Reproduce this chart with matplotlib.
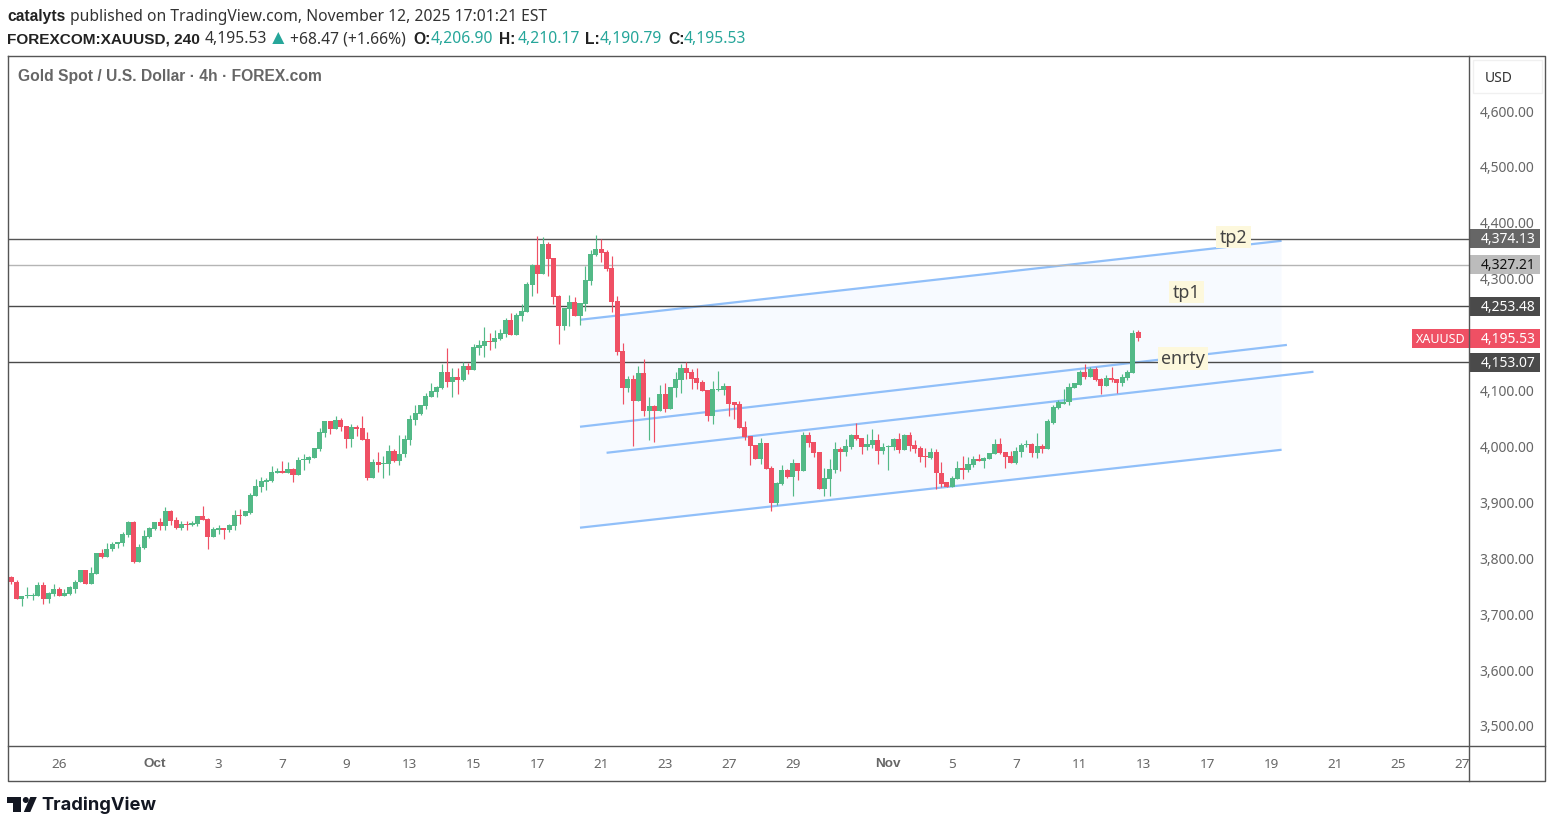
#!/usr/bin/env python3
# XAUUSD 4h chart with channel, levels and notes
import matplotlib
matplotlib.use("Agg")
import matplotlib.pyplot as plt
from matplotlib.patches import Polygon, Rectangle, Circle
from matplotlib.transforms import blended_transform_factory, ScaledTranslation

W, H = 1555, 828

opens = [
    3768,3760,3730,3734,3734,3735,3755,3730,3739,3748,
    3735,3739,3748,3759,3782,3757,3775,3812,3805,3818,
    3827,3830,3844,3868,3796,3821,3841,3855,3868,3860,
    3887,3871,3857,3864,3862,3864,3878,3873,3841,3853,
    3857,3852,3860,3880,3878,3884,3914,3930,3939,3941,
    3955,3959,3955,3962,3952,3978,3978,3982,3998,4027,
    4048,4034,4050,4039,4016,4037,4036,4016,3946,3975,
    3971,3971,3995,3977,3988,4014,4050,4061,4075,4091,
    4100,4107,4136,4118,4127,4122,4147,4140,4179,4182,
    4191,4190,4195,4204,4229,4202,4236,4243,4292,4327,
    4311,4365,4340,4272,4218,4249,4261,4236,4258,4299,
    4345,4356,4351,4322,4263,4174,4107,4123,4084,4134,
    4066,4075,4066,4097,4070,4107,4122,4143,4136,4125,
    4118,4104,4057,4104,4104,4111,4081,4079,4038,4021,
    4005,3979,4009,3964,3902,3936,3961,3948,3973,3959,
    4023,4011,3993,3927,3945,3961,3998,3993,4002,4023,
    4018,4002,4005,4014,3995,4002,4002,4016,3996,4022,
    4005,4000,3986,3982,3993,3955,3938,3929,3945,3964,
    3961,3970,3980,3977,3980,3989,4007,3993,3986,3973,
    3993,4005,4007,3991,4004,3998,4045,4072,4079,4081,
    4107,4113,4136,4127,4141,4123,4111,4125,4123,4116,
    4125,4134,4206.90]
highs = [
    3771,3764,3735,3750,3741,3760,3759,3742,3757,3751,
    3748,3753,3764,3782,3782,3787,3812,3818,3830,3832,
    3832,3850,3869,3869,3828,3853,3859,3868,3875,3894,
    3889,3877,3869,3869,3869,3878,3896,3875,3859,3862,
    3857,3864,3889,3891,3887,3919,3945,3948,3946,3968,
    3964,3977,3975,3964,3984,3989,3986,4000,4036,4048,
    4048,4057,4054,4039,4043,4041,4057,4029,3980,3993,
    3986,4005,3998,4022,4022,4059,4077,4077,4098,4116,
    4111,4149,4179,4143,4143,4154,4152,4186,4193,4216,
    4206,4211,4213,4233,4241,4241,4258,4297,4329,4379,
    4377,4368,4340,4274,4250,4274,4270,4259,4326,4354,
    4381,4374,4354,4343,4272,4188,4129,4131,4147,4159,
    4090,4077,4113,4115,4109,4136,4150,4154,4141,4143,
    4122,4104,4120,4138,4116,4111,4082,4084,4048,4021,
    4005,4018,4009,3968,3939,3970,3962,3980,3973,4029,
    4029,4011,3993,3964,3980,4011,4002,4016,4025,4045,
    4018,4025,4034,4025,4009,4005,4018,4027,4025,4029,
    4014,4004,4000,4000,3998,3975,3938,3950,3977,3986,
    3984,3986,3989,3984,3991,4016,4018,3993,3995,4002,
    4009,4013,4009,4027,4007,4052,4077,4086,4106,4115,
    4115,4140,4149,4145,4145,4125,4131,4145,4123,4132,
    4140,4211,4210.17]
lows = [
    3757,3730,3716,3732,3728,3735,3721,3723,3735,3735,
    3734,3737,3741,3759,3757,3757,3775,3803,3805,3816,
    3821,3825,3841,3793,3796,3819,3839,3853,3853,3852,
    3862,3855,3853,3852,3860,3860,3871,3818,3841,3846,
    3837,3850,3853,3864,3878,3882,3914,3921,3925,3939,
    3955,3955,3955,3939,3952,3961,3973,3982,3995,4020,
    4025,4034,4030,4000,4002,4021,4014,3943,3946,3957,
    3946,3952,3975,3970,3984,4005,4041,4059,4070,4091,
    4090,4106,4109,4090,4097,4120,4132,4140,4166,4163,
    4175,4179,4193,4199,4202,4202,4227,4243,4272,4277,
    4311,4308,4258,4186,4211,4218,4236,4220,4245,4292,
    4343,4333,4317,4243,4166,4079,4100,4004,4084,4057,
    4014,4011,4066,4064,4070,4091,4098,4123,4106,4106,
    4102,4047,4043,4102,4095,4057,4052,4036,4013,3970,
    3979,3971,3962,3886,3898,3934,3946,3914,3943,3959,
    4002,3984,3927,3914,3914,3955,3959,3986,3998,4014,
    3988,3996,4000,3971,3989,3961,3996,3991,3996,3995,
    3991,3975,3966,3980,3927,3930,3929,3929,3945,3945,
    3957,3966,3977,3963,3979,3989,3988,3964,3973,3971,
    3984,4002,3984,3982,3991,3998,4043,4070,4079,4077,
    4107,4113,4123,4127,4120,4097,4111,4118,4098,4111,
    4122,4134,4190.79]
closes = [
    3759,3730,3735,3736,3737,3755,3730,3741,3748,3735,
    3741,3750,3760,3782,3757,3776,3812,3805,3819,3828,
    3832,3846,3868,3796,3823,3843,3857,3868,3860,3887,
    3869,3857,3864,3862,3866,3878,3871,3841,3855,3857,
    3852,3862,3880,3878,3886,3916,3932,3941,3943,3957,
    3959,3955,3962,3952,3978,3980,3984,4000,4029,4048,
    4034,4050,4037,4016,4037,4034,4014,3946,3975,3970,
    3973,3995,3977,3989,4016,4052,4063,4077,4093,4102,
    4109,4136,4118,4127,4122,4147,4140,4181,4184,4191,
    4190,4197,4206,4229,4202,4238,4245,4293,4327,4311,
    4365,4338,4270,4218,4250,4261,4236,4259,4300,4347,
    4356,4349,4320,4261,4172,4107,4123,4084,4134,4066,
    4075,4066,4097,4070,4109,4123,4143,4134,4123,4116,
    4102,4057,4106,4106,4111,4079,4077,4036,4020,4004,
    3979,4009,3962,3902,3937,3961,3948,3973,3959,4023,
    4009,3991,3927,3946,3962,3998,3993,4004,4023,4016,
    4002,4007,4014,3995,4002,4004,4016,3996,4022,4004,
    3998,3984,3984,3993,3954,3936,3929,3946,3964,3961,
    3971,3980,3977,3982,3991,4007,3991,3984,3973,3995,
    4005,4007,3991,4004,3998,4047,4073,4081,4082,4109,
    4115,4136,4127,4141,4122,4111,4125,4122,4116,4127,
    4136,4206,4195.53]

# 4,200.00 sits hidden behind the last-price tag
price_ticks = [3500, 3600, 3700, 3800, 3900, 4000, 4100, 4300, 4400, 4500, 4600]
date_pos = [9, 27, 39, 51, 63, 75, 87, 99, 111, 123, 135, 147, 165, 177, 189, 201, 213, 225, 237, 249, 261, 273]
date_lab = ["26", "Oct", "3", "7", "9", "13", "15", "17", "21", "23", "27", "29",
            "Nov", "5", "7", "11", "13", "17", "19", "21", "25", "27"]

# horizontal levels: (price, line colour, box colour, box text colour)
levels = [4374.13, 4327.21, 4253.48, 4153.07]
level_line = ["#555555", "#b5b5b5", "#4a4a4a", "#4a4a4a"]
level_box = ["#666666", "#bcbcbc", "#4a4a4a", "#4a4a4a"]
level_txt = ["white", "#111111", "white", "white"]

# channel lines: bar index and price at both ends
chan_x = [(107, 239), (107, 240), (112, 245), (107, 239)]
chan_y = [(4229, 4370.3), (4037.6, 4184), (3991, 4136), (3857, 3996.4)]

notes = ["tp2", "tp1", "enrty"]

GREEN = "#53b987"
RED = "#ef5064"
LINE = "#555555"
FONT = ["Noto Sans", "DejaVu Sans"]
BOLD = ["Liberation Sans", "DejaVu Sans"]
plt.rcParams["font.family"] = FONT

fig = plt.figure(figsize=(W / 100, H / 100), dpi=100, facecolor="white")

# main panel, in pixels: x 8.5..1470, y 55.5..746
left, right, top, bottom = 8.5, 1470, 55.5, 746
ax = fig.add_axes([left / W, 1 - bottom / H, (right - left) / W, (bottom - top) / H])
ax.set_xlim((left - 11.3) / 5.315, (right - 11.3) / 5.315)
ax.set_ylim(3468.2, 4703.6)
for s in ax.spines.values():
    s.set_visible(False)

# channel fill and lines
ax.add_patch(Polygon([(chan_x[0][0], chan_y[0][0]), (chan_x[0][1], chan_y[0][1]),
                      (chan_x[3][1], chan_y[3][1]), (chan_x[3][0], chan_y[3][0])],
                     closed=True, fc="#f7faff", ec="none", zorder=1))
for px, py in zip(chan_x, chan_y):
    ax.plot(px, py, color="#90bff9", lw=1.6, zorder=1.5, solid_capstyle="butt")

for p, c in zip(levels, level_line):
    ax.axhline(p, color=c, lw=1.0, zorder=1.6)

# candles
for i, (o, h, l, c) in enumerate(zip(opens, highs, lows, closes)):
    col = GREEN if c >= o else RED
    ax.vlines(i, l, h, color=col, lw=0.85, zorder=3)
    ax.bar(i, abs(c - o), bottom=min(o, c), width=0.95, color=col, lw=0, zorder=3.1)

# axes labels
ax.yaxis.tick_right()
ax.set_yticks(price_ticks)
ax.set_yticklabels([f"{p:,.2f}" for p in price_ticks], fontsize=10, color="#666666")
ax.tick_params(axis="y", length=0, pad=7)
for lab in ax.get_yticklabels():
    lab.set_transform(lab.get_transform() + ScaledTranslation(0, 1.66 / 72, fig.dpi_scale_trans))
ax.set_xticks(date_pos)
ax.set_xticklabels(date_lab, fontsize=9.7, color="#666666")
ax.tick_params(axis="x", length=0, pad=9)
for lab in ax.get_xticklabels():
    if lab.get_text() in ("Oct", "Nov"):
        lab.set_fontweight("bold")
        lab.set_family(BOLD)

# price boxes on the scale
trans = blended_transform_factory(ax.transAxes, ax.transData)
box_w = 70 / (right - left)
text_x = 1 + 38 / (right - left)
box_h = 19 * 1.789
for p, bc, tc in zip(levels, level_box, level_txt):
    ax.add_patch(Rectangle((1, p - box_h / 2), box_w, box_h, transform=trans, fc=bc, ec="none",
                           clip_on=False, zorder=5))
    ax.text(text_x, p, f"{p:,.2f}", transform=trans, ha="center", va="center",
            fontsize=10, color=tc, zorder=6, clip_on=False)
last = closes[-1]
ax.add_patch(Rectangle((1, last - box_h / 2), box_w, box_h, transform=trans, fc=RED, ec="none",
                       clip_on=False, zorder=5))
ax.text(text_x, last, f"{last:,.2f}", transform=trans, ha="center", va="center",
        fontsize=10, color="white", zorder=6, clip_on=False)
ax.add_patch(Rectangle((1 - 58 / (right - left), last - box_h / 2), 58 / (right - left), box_h,
                       transform=trans, fc=RED, ec="none", clip_on=False, zorder=5))
ax.text(1 - 29 / (right - left), last, "XAUUSD", transform=trans, ha="center", va="center",
        fontsize=9, color="white", zorder=6, clip_on=False)

# overlay in pixels for frame, header, notes and logo
ov = fig.add_axes([0, 0, 1, 1], zorder=10)
ov.set_xlim(0.7, W + 0.7)
ov.set_ylim(H - 1, -1)
ov.axis("off")
ov.patch.set_alpha(0)
ov.plot([8.5, 1546, 1546, 8.5, 8.5], [55.5, 55.5, 781, 781, 55.5], color=LINE, lw=1.0)
ov.plot([1470, 1470], [55.5, 781], color=LINE, lw=1.0)
ov.plot([8.5, 1546], [746, 746], color=LINE, lw=1.0)

for t, x0, x1, y0, y1 in zip(notes, (1217, 1170, 1159), (1252, 1205, 1209), (226, 281, 347), (248, 303, 370)):
    ov.add_patch(Rectangle((x0, y0), x1 - x0, y1 - y0, fc="#fdf8dc", ec="none"))
    ov.text((x0 + x1) / 2, (y0 + y1) / 2, t, ha="center", va="center", fontsize=12.8, color="#444444")

ov.add_patch(Rectangle((1474, 60), 68.5, 33, fc="white", ec="#f0f0f0", lw=1))
ov.text(1499, 77, "USD", fontsize=10, color="#333333", ha="center", va="center")

HS = 11.25
ov.text(8, 16, "catalyts", fontsize=HS, fontweight="bold", family=BOLD, color="#222222", va="center")
ov.text(71, 16, "published on TradingView.com, November 12, 2025 17:01:21 EST", fontsize=HS,
        color="#333333", va="center")
ov.text(8, 38, "FOREXCOM:XAUUSD, 240", fontsize=HS - 0.2, fontweight="bold", family=BOLD, color="#222222", va="center")
ov.text(205, 38, "4,195.53", fontsize=HS, color="#333333", va="center")
ov.add_patch(Polygon([(273, 44), (285, 44), (279, 32)], closed=True, fc="#26a69a", ec="none"))
ov.text(291, 38, "+68.47 (+1.66%)", fontsize=HS, color="#333333", va="center")
for key, kx, val, vx in [("O:", 414, "4,206.90", 431), ("H:", 500, "4,210.17", 518),
                         ("L:", 586, "4,190.79", 600), ("C:", 669, "4,195.53", 684)]:
    ov.text(kx, 38, key, fontsize=HS, fontweight="bold", family=BOLD, color="#222222", va="center")
    ov.text(vx, 38, val, fontsize=HS, color="#26a69a", va="center")
ov.text(19, 76, "Gold Spot / U.S. Dollar · 4h · FOREX.com", fontsize=HS, fontweight="bold", family=BOLD,
        color="#666666", va="center")

# TradingView mark
DARK = "#131722"
ov.add_patch(Polygon([(8, 797), (22, 797), (22, 812), (14, 812), (14, 803), (8, 803)], closed=True, fc=DARK, ec="none"))
ov.add_patch(Circle((26.5, 800), 3, fc=DARK, ec="none"))
ov.add_patch(Polygon([(31, 797), (37.5, 797), (31, 812), (24.5, 812)], closed=True, fc=DARK, ec="none"))
ov.text(42, 804, "TradingView", fontsize=13.2, fontweight="bold", color=DARK, va="center", family=["Inter", "DejaVu Sans"])

fig.savefig("out.png", dpi=100)
